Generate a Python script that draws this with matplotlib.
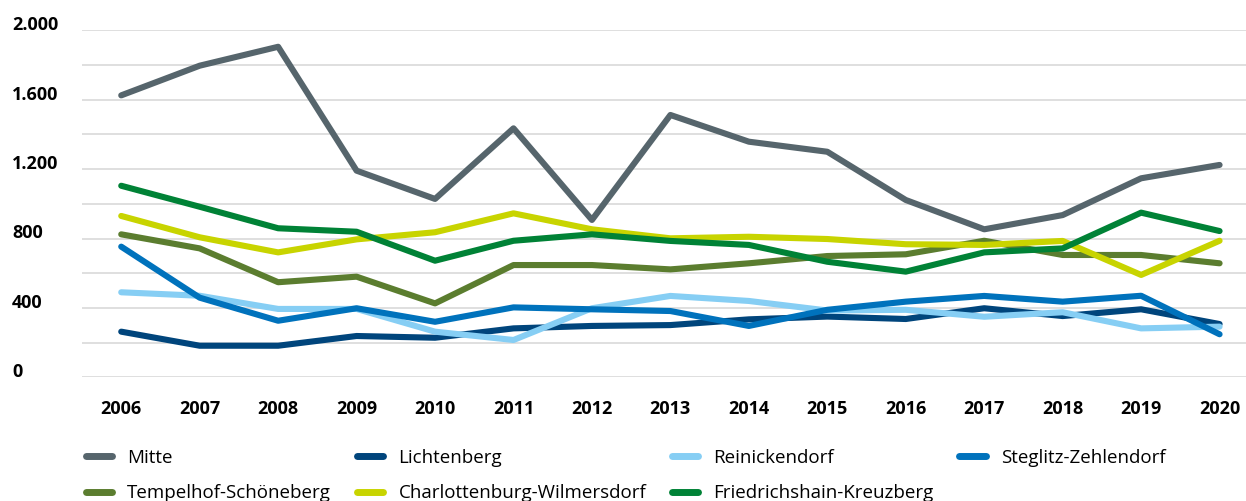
import matplotlib
matplotlib.use("Agg")
import matplotlib.pyplot as plt

plt.rcParams['font.family'] = ['Open Sans', 'DejaVu Sans']

years = ["2006", "2007", "2008", "2009", "2010", "2011", "2012", "2013",
         "2014", "2015", "2016", "2017", "2018", "2019", "2020"]

mitte = [1625, 1796, 1905, 1191, 1028, 1435, 907, 1512, 1358, 1300, 1022, 853, 935, 1147, 1224]
lichtenberg = [263, 182, 182, 238, 228, 282, 296, 301, 334, 350, 336, 398, 353, 392, 307]
reinickendorf = [490, 470, 394, 394, 263, 215, 398, 469, 440, 385, 389, 349, 375, 282, 292]
steglitz = [753, 459, 326, 398, 320, 403, 392, 382, 296, 389, 436, 469, 436, 470, 248]
tempelhof = [824, 743, 548, 580, 426, 647, 647, 622, 657, 699, 709, 787, 705, 705, 657]
charlottenburg = [930, 807, 720, 795, 836, 945, 853, 801, 810, 797, 767, 763, 786, 590, 787]
friedrichshain = [1104, 983, 859, 839, 672, 787, 824, 786, 763, 666, 609, 720, 743, 949, 843]

series = [
    ("Mitte", mitte, "#56656c"),
    ("Lichtenberg", lichtenberg, "#00457c"),
    ("Reinickendorf", reinickendorf, "#86cef4"),
    ("Steglitz-Zehlendorf", steglitz, "#0072bc"),
    ("Tempelhof-Schöneberg", tempelhof, "#5b7d2f"),
    ("Charlottenburg-Wilmersdorf", charlottenburg, "#c8d400"),
    ("Friedrichshain-Kreuzberg", friedrichshain, "#008236"),
]

yticks = list(range(0, 2001, 200))
ylabels = ["0", "", "400", "", "800", "", "1.200", "", "1.600", "", "2.000"]

W, H = 1246, 501
fig = plt.figure(figsize=(W / 100, H / 100), dpi=100)
ax_left, ax_bottom, ax_top = 82, 377.3, 30.3
ax = fig.add_axes([ax_left / W, 1 - ax_bottom / H, 1 - ax_left / W, (ax_bottom - ax_top) / H])

x = list(range(len(years)))
lines = {}
for name, vals, col in series:
    ln, = ax.plot(x, vals, color=col, lw=4.4, solid_capstyle='round',
                  solid_joinstyle='round', clip_on=False, label=name)
    lines[name] = ln

ax.set_xlim(-0.5, (W - 122) / 78.4)
ax.set_ylim(0, 2000)
ax.set_yticks(yticks, ylabels)
ax.set_xticks(x, years)
ax.grid(axis='y', color='#d9d9d9', lw=1.2)
ax.set_axisbelow(True)
for s in ax.spines.values():
    s.set_visible(False)
ax.tick_params(axis='both', length=0)
ax.tick_params(axis='x', pad=16)
ax.tick_params(axis='y', pad=70 * 0.72)
for lab in ax.get_yticklabels():
    lab.set_ha('left')
    lab.set_va('baseline')
    lab.set_fontweight('bold')
    lab.set_fontsize(13)
for lab in ax.get_xticklabels():
    lab.set_fontweight('bold')
    lab.set_fontsize(13)

# legend filled row by row
order = ["Mitte", "Tempelhof-Schöneberg", "Lichtenberg", "Charlottenburg-Wilmersdorf",
         "Reinickendorf", "Friedrichshain-Kreuzberg", "Steglitz-Zehlendorf"]
leg = fig.legend([lines[n] for n in order], order, ncol=4, loc='upper left',
                 bbox_to_anchor=(85.5 / W, 1 - 449 / H), frameon=False,
                 fontsize=13.5, handlelength=1.4, handletextpad=0.83,
                 columnspacing=1.36, labelspacing=0.92, borderpad=0, borderaxespad=0)
for ln in leg.get_lines():
    ln.set_linewidth(5)

fig.savefig("out.png", dpi=100)
